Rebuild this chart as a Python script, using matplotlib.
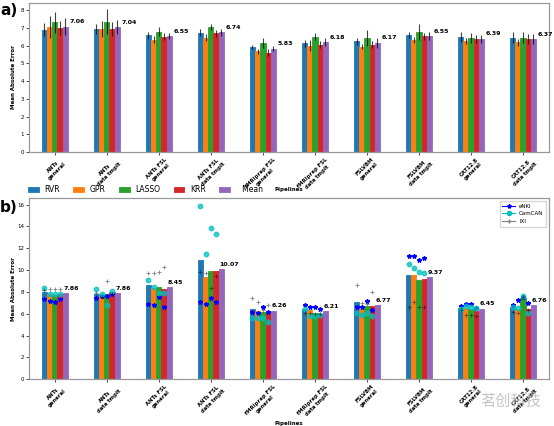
import numpy as np
import matplotlib
matplotlib.use('Agg')
import matplotlib.pyplot as plt
from matplotlib.lines import Line2D

pipelines = ['ANTs\ngeneral', 'ANTs\ndata tmplt', 'ANTs FSL\ngeneral', 'ANTs FSL\ndata tmplt',
             'fMRIprep FSL\ngeneral', 'fMRIprep FSL\ndata tmplt', 'FSLVBM\ngeneral',
             'FSLVBM\ndata tmplt', 'CAT12.8\ngeneral', 'CAT12.8\ndata tmplt']
models = ['RVR', 'GPR', 'LASSO', 'KRR', 'Mean']

# panel a) cross-validation MAE and error bars
rvr_a = [6.90, 6.93, 6.57, 6.72, 5.92, 6.13, 6.25, 6.60, 6.47, 6.45]
gpr_a = [7.04, 6.93, 6.33, 6.45, 5.67, 6.00, 5.93, 6.30, 6.26, 6.19]
lasso_a = [7.32, 7.35, 6.78, 7.07, 6.13, 6.51, 6.43, 6.76, 6.43, 6.45]
krr_a = [7.00, 6.93, 6.50, 6.70, 5.60, 6.06, 6.06, 6.53, 6.36, 6.36]
mean_a = [7.06, 7.04, 6.55, 6.74, 5.83, 6.18, 6.17, 6.55, 6.39, 6.37]
rvr_a_err = [0.38, 0.28, 0.22, 0.20, 0.12, 0.19, 0.20, 0.15, 0.27, 0.30]
gpr_a_err = [0.60, 0.47, 0.19, 0.19, 0.13, 0.33, 0.15, 0.17, 0.19, 0.20]
lasso_a_err = [0.60, 0.70, 0.25, 0.17, 0.28, 0.22, 0.47, 0.44, 0.26, 0.33]
krr_a_err = [0.38, 0.38, 0.19, 0.20, 0.20, 0.22, 0.22, 0.20, 0.23, 0.28]
mean_a_err = [0.47, 0.38, 0.17, 0.20, 0.14, 0.23, 0.28, 0.22, 0.23, 0.28]

# panel b) test MAE averaged over datasets
rvr_b = [8.00, 7.85, 8.60, 10.95, 6.40, 6.45, 7.05, 9.55, 6.55, 6.58]
gpr_b = [7.78, 7.58, 8.35, 9.35, 6.28, 6.30, 6.45, 9.55, 6.48, 6.45]
lasso_b = [7.72, 7.78, 8.45, 9.95, 6.15, 6.08, 6.70, 9.10, 6.42, 7.40]
krr_b = [7.85, 7.95, 8.30, 9.95, 6.08, 6.00, 6.70, 9.20, 6.28, 6.40]
mean_b = [7.86, 7.86, 8.45, 10.07, 6.26, 6.21, 6.77, 9.37, 6.45, 6.76]

# per-dataset MAE (RVR, GPR, LASSO, KRR) for every pipeline
enki = [[7.37, 7.18, 7.06, 7.37], [7.46, 7.60, 7.64, 7.80], [6.90, 6.80, 7.52, 6.66],
        [7.06, 6.90, 7.46, 7.03], [6.20, 6.05, 6.58, 6.20], [6.82, 6.57, 6.60, 6.42],
        [6.57, 6.60, 7.18, 6.36], [11.28, 11.28, 10.90, 11.07], [6.70, 6.88, 6.85, 6.55],
        [6.82, 7.28, 7.49, 6.97]]
camcan = [[8.38, 7.85, 7.80, 7.85], [8.26, 7.80, 6.82, 8.10], [9.11, 8.44, 7.86, 7.86],
          [15.85, 11.45, 13.90, 13.30], [5.56, 5.60, 5.60, 5.28], [6.42, 5.75, 5.75, 5.84],
          [6.05, 5.84, 6.05, 5.75], [10.58, 10.15, 9.78, 9.75], [6.45, 6.73, 6.63, 6.50],
          [6.60, 6.48, 7.60, 6.05]]
ixi = [[8.20, 8.26, 8.30, 8.28], [7.90, 7.52, 9.00, 7.85], [9.70, 9.70, 9.85, 10.25],
       [9.80, 9.70, 8.40, 9.48], [7.43, 7.09, 6.33, 6.79], [6.05, 6.05, 6.00, 6.00],
       [8.65, 6.97, 6.85, 7.95], [6.63, 7.03, 6.63, 6.66], [6.30, 5.84, 5.84, 5.75],
       [6.20, 6.05, 7.50, 6.36]]

colors = ['#1f77b4', '#ff7f0e', '#2ca02c', '#d62728', '#9467bd']
x = np.arange(len(pipelines))
w = 0.1
offs = [-0.2, -0.1, 0.0, 0.1, 0.2]

fig = plt.figure(figsize=(5.54, 4.26), dpi=100)
ax1 = fig.add_axes([0.052, 0.643, 0.939, 0.350])
ax2 = fig.add_axes([0.052, 0.110, 0.939, 0.425])

vals_a = [rvr_a, gpr_a, lasso_a, krr_a, mean_a]
errs_a = [rvr_a_err, gpr_a_err, lasso_a_err, krr_a_err, mean_a_err]
for k in range(5):
    ax1.bar(x + offs[k], vals_a[k], w, yerr=errs_a[k], color=colors[k], label=models[k],
            edgecolor=colors[k], linewidth=0.6,
            error_kw=dict(ecolor='k', elinewidth=0.8, alpha=0.75, capsize=0))
for i in range(len(x)):
    ax1.text(x[i] + 0.28, mean_a[i] + 0.27, f'{mean_a[i]:.2f}', fontsize=4.5,
             fontweight='bold', va='center', ha='left')

vals_b = [rvr_b, gpr_b, lasso_b, krr_b, mean_b]
for k in range(5):
    ax2.bar(x + offs[k], vals_b[k], w, color=colors[k], edgecolor=colors[k], linewidth=0.6)
px = np.array([x + offs[k] for k in range(4)]).T
ax2.plot(px.ravel(), np.ravel(enki), '*', color='b', ms=3.2, ls='none')
ax2.plot(px.ravel(), np.ravel(camcan), 'o', color='c', ms=3.2, alpha=0.75, ls='none')
ax2.plot(px.ravel(), np.ravel(ixi), '+', color='k', ms=3.2, mew=0.6, alpha=0.5, ls='none')
for i in range(len(x)):
    ax2.text(x[i] + 0.17, mean_b[i] + 0.45, f'{mean_b[i]:.2f}', fontsize=4.5,
             fontweight='bold', va='center', ha='left')

ds_handles = [Line2D([], [], color='b', marker='*', ms=3, lw=0.8),
              Line2D([], [], color='c', marker='o', ms=3, lw=0.8),
              Line2D([], [], color='grey', marker='+', ms=3, lw=0.8)]
ax2.legend(ds_handles, ['eNKI', 'CamCAN', 'IXI'], loc='upper right', fontsize=4,
           handlelength=2.2, borderpad=0.5, labelspacing=0.5, fancybox=False,
           edgecolor='#cccccc')

for ax, top, step in [(ax1, 8.4, 1), (ax2, 16.6, 2)]:
    ax.set_xlim(-0.5, 9.5)
    ax.set_ylim(0, top)
    ax.set_yticks(np.arange(0, top, step))
    ax.set_xticks(x)
    ax.set_xticklabels(pipelines, rotation=45, ha='center', fontsize=3.8,
                       fontweight='bold', multialignment='center')
    ax.tick_params(axis='y', labelsize=4, length=2, width=0.5, pad=1.5)
    ax.tick_params(axis='x', length=2, width=0.5, pad=1.5)
    ax.set_ylabel('Mean Absolute Error', fontsize=4, fontweight='bold')
    ax.yaxis.set_label_coords(-0.024, 0.5)
    ax.set_xlabel('Pipelines', fontsize=4, fontweight='bold')
    for s in ax.spines.values():
        s.set_color('#999999')
        s.set_linewidth(0.9)
ax1.xaxis.set_label_coords(0.5, -0.235)
ax2.xaxis.set_label_coords(0.5, -0.232)

h, l = ax1.get_legend_handles_labels()
l = [s if s != 'Mean' else '   Mean' for s in l]
fig.legend(h, l, loc='center left', bbox_to_anchor=(0.038, 0.554), ncol=5, frameon=False,
           fontsize=5.5, handlelength=1.4, handleheight=0.6, handletextpad=0.7,
           columnspacing=1.8)

fig.text(0.0, 0.975, 'a)', fontsize=11, fontweight='bold', va='center')
fig.text(0.0, 0.512, 'b)', fontsize=11, fontweight='bold', va='center')
fig.text(0.922, 0.058, '茗创科技', fontsize=11, color='#b5b5b5', alpha=0.8,
         family=['Noto Sans CJK SC', 'DejaVu Sans'], ha='center', va='center')

fig.savefig('out.png', dpi=100)
